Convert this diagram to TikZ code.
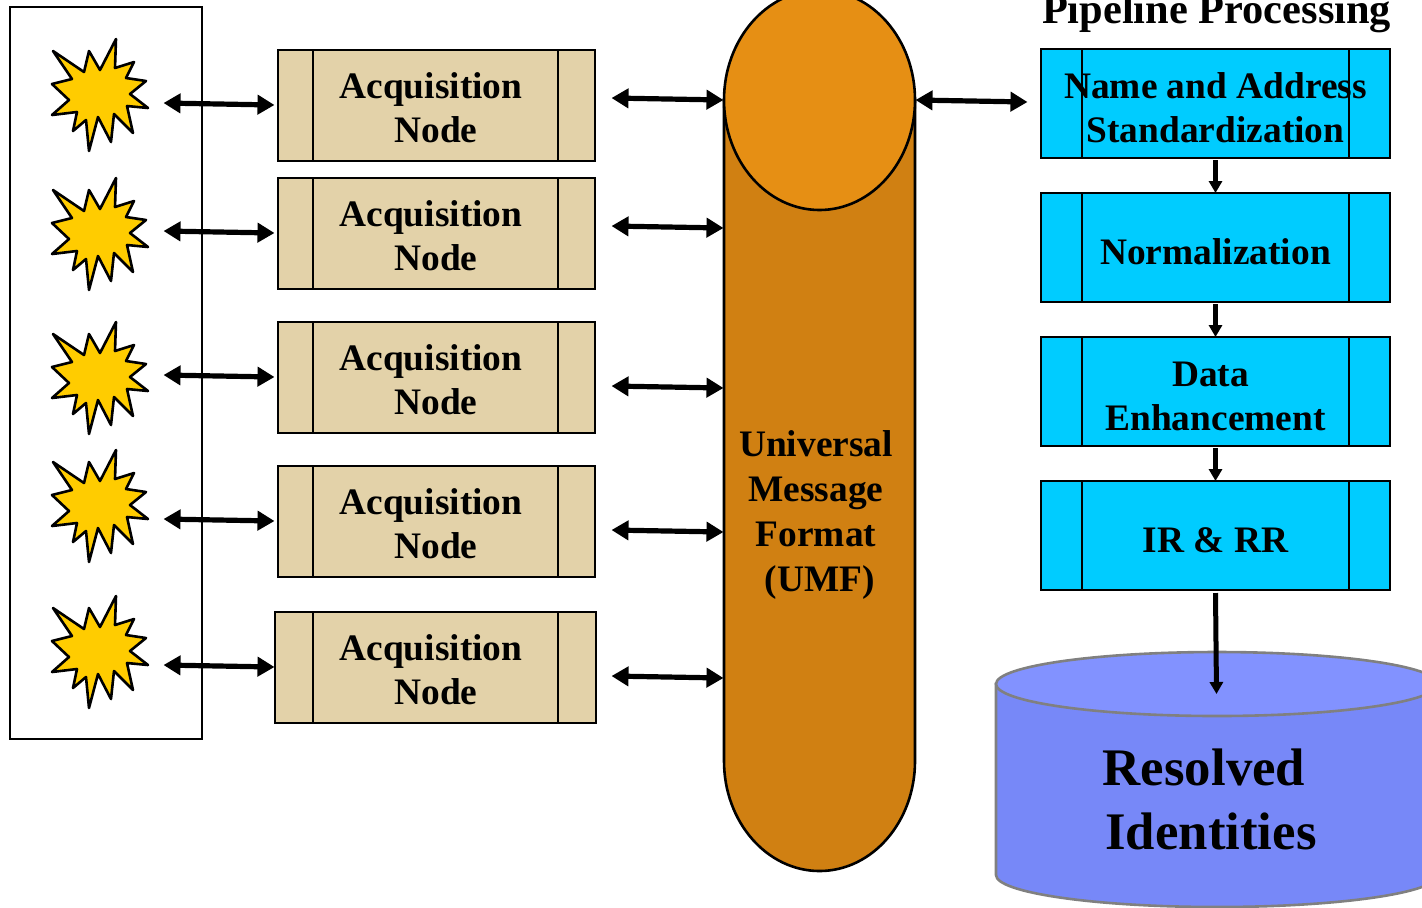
\documentclass[tikz,border=0pt]{standalone}
\usepackage{fontspec}
\setmainfont{Liberation Serif}
\usetikzlibrary{calc,arrows.meta}
\definecolor{tanfill}{HTML}{E3D2A9}
\definecolor{cyanfill}{HTML}{00CCFF}
\definecolor{starfill}{HTML}{FFCC00}
\definecolor{umfbody}{HTML}{D08012}
\definecolor{umftop}{HTML}{E68F14}
\definecolor{dbbody}{HTML}{7788F8}
\definecolor{dbtop}{HTML}{8292FF}
\tikzset{
	boxline/.style={draw=black,line width=1.3pt},
	twoway/.style={line width=2.6pt,{Triangle[length=8.5pt,width=9.5pt]}-{Triangle[length=8.5pt,width=9.5pt]}},
	oneway/.style={line width=2.5pt,-{Triangle[length=6pt,width=6.5pt]}},
	boxtext/.style={font=\fontsize{18.7}{22}\selectfont\bfseries,align=center},
}
\newcommand{\burst}[2]{
	\coordinate (#1) at (100,#2);
	\draw[boxline,fill=starfill,line join=round,shift={(#1)}]
		(-47,-44) -- (-16,-23) -- (-11,-44) -- (0,-25) -- (16,-56) -- (15,-27) -- (34,-33)
		-- (26,-17) -- (46,-14) -- (30,-1) -- (48,13) -- (27,11) -- (33,38) -- (14,19)
		-- (11,47) -- (-2,22) -- (-11,56) -- (-14,25) -- (-27,36) -- (-23,17) -- (-48,20)
		-- (-31,5) -- (-48,-11) -- (-28,-16) -- cycle;
}
\newcommand{\acqbox}[5]{
	\path[boxline,fill=tanfill] (#2,#4) rectangle (#3,#4+111);
	\draw[boxline] (313,#4) -- (313,#4+111) (558,#4) -- (558,#4+111);
	\node[boxtext] (#1) at (#5,#4+58) {Acquisition\hspace*{5pt}\\\hspace*{0pt}Node};
	\coordinate (#1w) at (278,#4+55);
}
\newcommand{\stepbox}[3]{
	\path[boxline,fill=cyanfill] (1041,#2) rectangle (1390,#2+109);
	\draw[boxline] (1082,#2-1) -- (1082,#2+110) (1349,#2-1) -- (1349,#2+110);
	\coordinate (#1n) at (1215.5,#2);
	\coordinate (#1s) at (1215.5,#2+109);
	\node[boxtext] (#1) at (1215.5,#2+59) {#3};
}

\begin{document}
\begin{tikzpicture}[x=0.5pt,y=-0.5pt]
	\path[use as bounding box,clip] (0,0) rectangle (1422,907);

	% sources
	\draw[boxline] (10,7) rectangle (202,739);
	\burst{s1}{95}
	\burst{s2}{234}
	\burst{s3}{378}
	\burst{s4}{506}
	\burst{s5}{652}

	% acquisition
	\acqbox{a1}{278}{595}{50}{436}
	\acqbox{a2}{278}{595}{178}{436}
	\acqbox{a3}{278}{595}{322}{436}
	\acqbox{a4}{278}{595}{466}{436}
	\acqbox{a5}{275}{596}{612}{436}

	% message format
	\draw[boxline,fill=umfbody] (724,100) -- (724,761) arc[start angle=180,end angle=0,x radius=95.5,y radius=110] -- (915,100) -- cycle;
	\draw[boxline,fill=umftop] (819.5,100) ellipse [x radius=95.5,y radius=110];
	\node[boxtext,font=\fontsize{18.7}{22.5}\selectfont\bfseries] (umf) at (816,515) {Universal\\Message\\Format\\\hspace*{4pt}(UMF)};

	% pipeline
	\node[font=\fontsize{21.2}{25}\selectfont\bfseries,anchor=base] (title) at (1216.5,23) {Pipeline Processing};
	\stepbox{p1}{49}{\hspace*{0pt}Name and Address\\Standardization}
	\stepbox{p2}{193}{Normalization}
	\stepbox{p3}{337}{Data\hspace*{5pt}\\Enhancement}
	\stepbox{p4}{481}{IR \& RR}

	% database
	\draw[draw=black!50,line width=1.3pt,fill=dbbody] (996,684) -- (996,875) arc[start angle=180,end angle=0,x radius=221,y radius=32] -- (1438,684) -- cycle;
	\draw[draw=black!50,line width=1.3pt,fill=dbtop] (1217,684) ellipse [x radius=221,y radius=32];
	\coordinate (dbtip) at (1216.5,694);
	\node[boxtext,font=\fontsize{26.4}{32}\selectfont\bfseries] (db) at (1211,799) {Resolved\hspace*{7pt}\\Identities};

	% arrows
	\foreach \i/\y in {1/103,2/231,3/375,4/519,5/665}{
		\draw[twoway] (163.5,\y) -- ($(a\i w)+(-3.5,0)$);
	}
	\foreach \i/\y in {1/98,2/226,3/386,4/530,5/676}{
		\draw[twoway] (611.5,\y) -- (723.5,\y+2);
	}
	\draw[twoway] (915.5,100) -- ($(p1n)+(-188,53)$);
	\draw[oneway] ($(p1s)+(0,2)$) -- (p2n);
	\draw[oneway] ($(p2s)+(0,2)$) -- (p3n);
	\draw[oneway] ($(p3s)+(0,2)$) -- (p4n);
	\draw[oneway] ($(p4s)+(0,3)$) -- (dbtip);
\end{tikzpicture}
\end{document}
